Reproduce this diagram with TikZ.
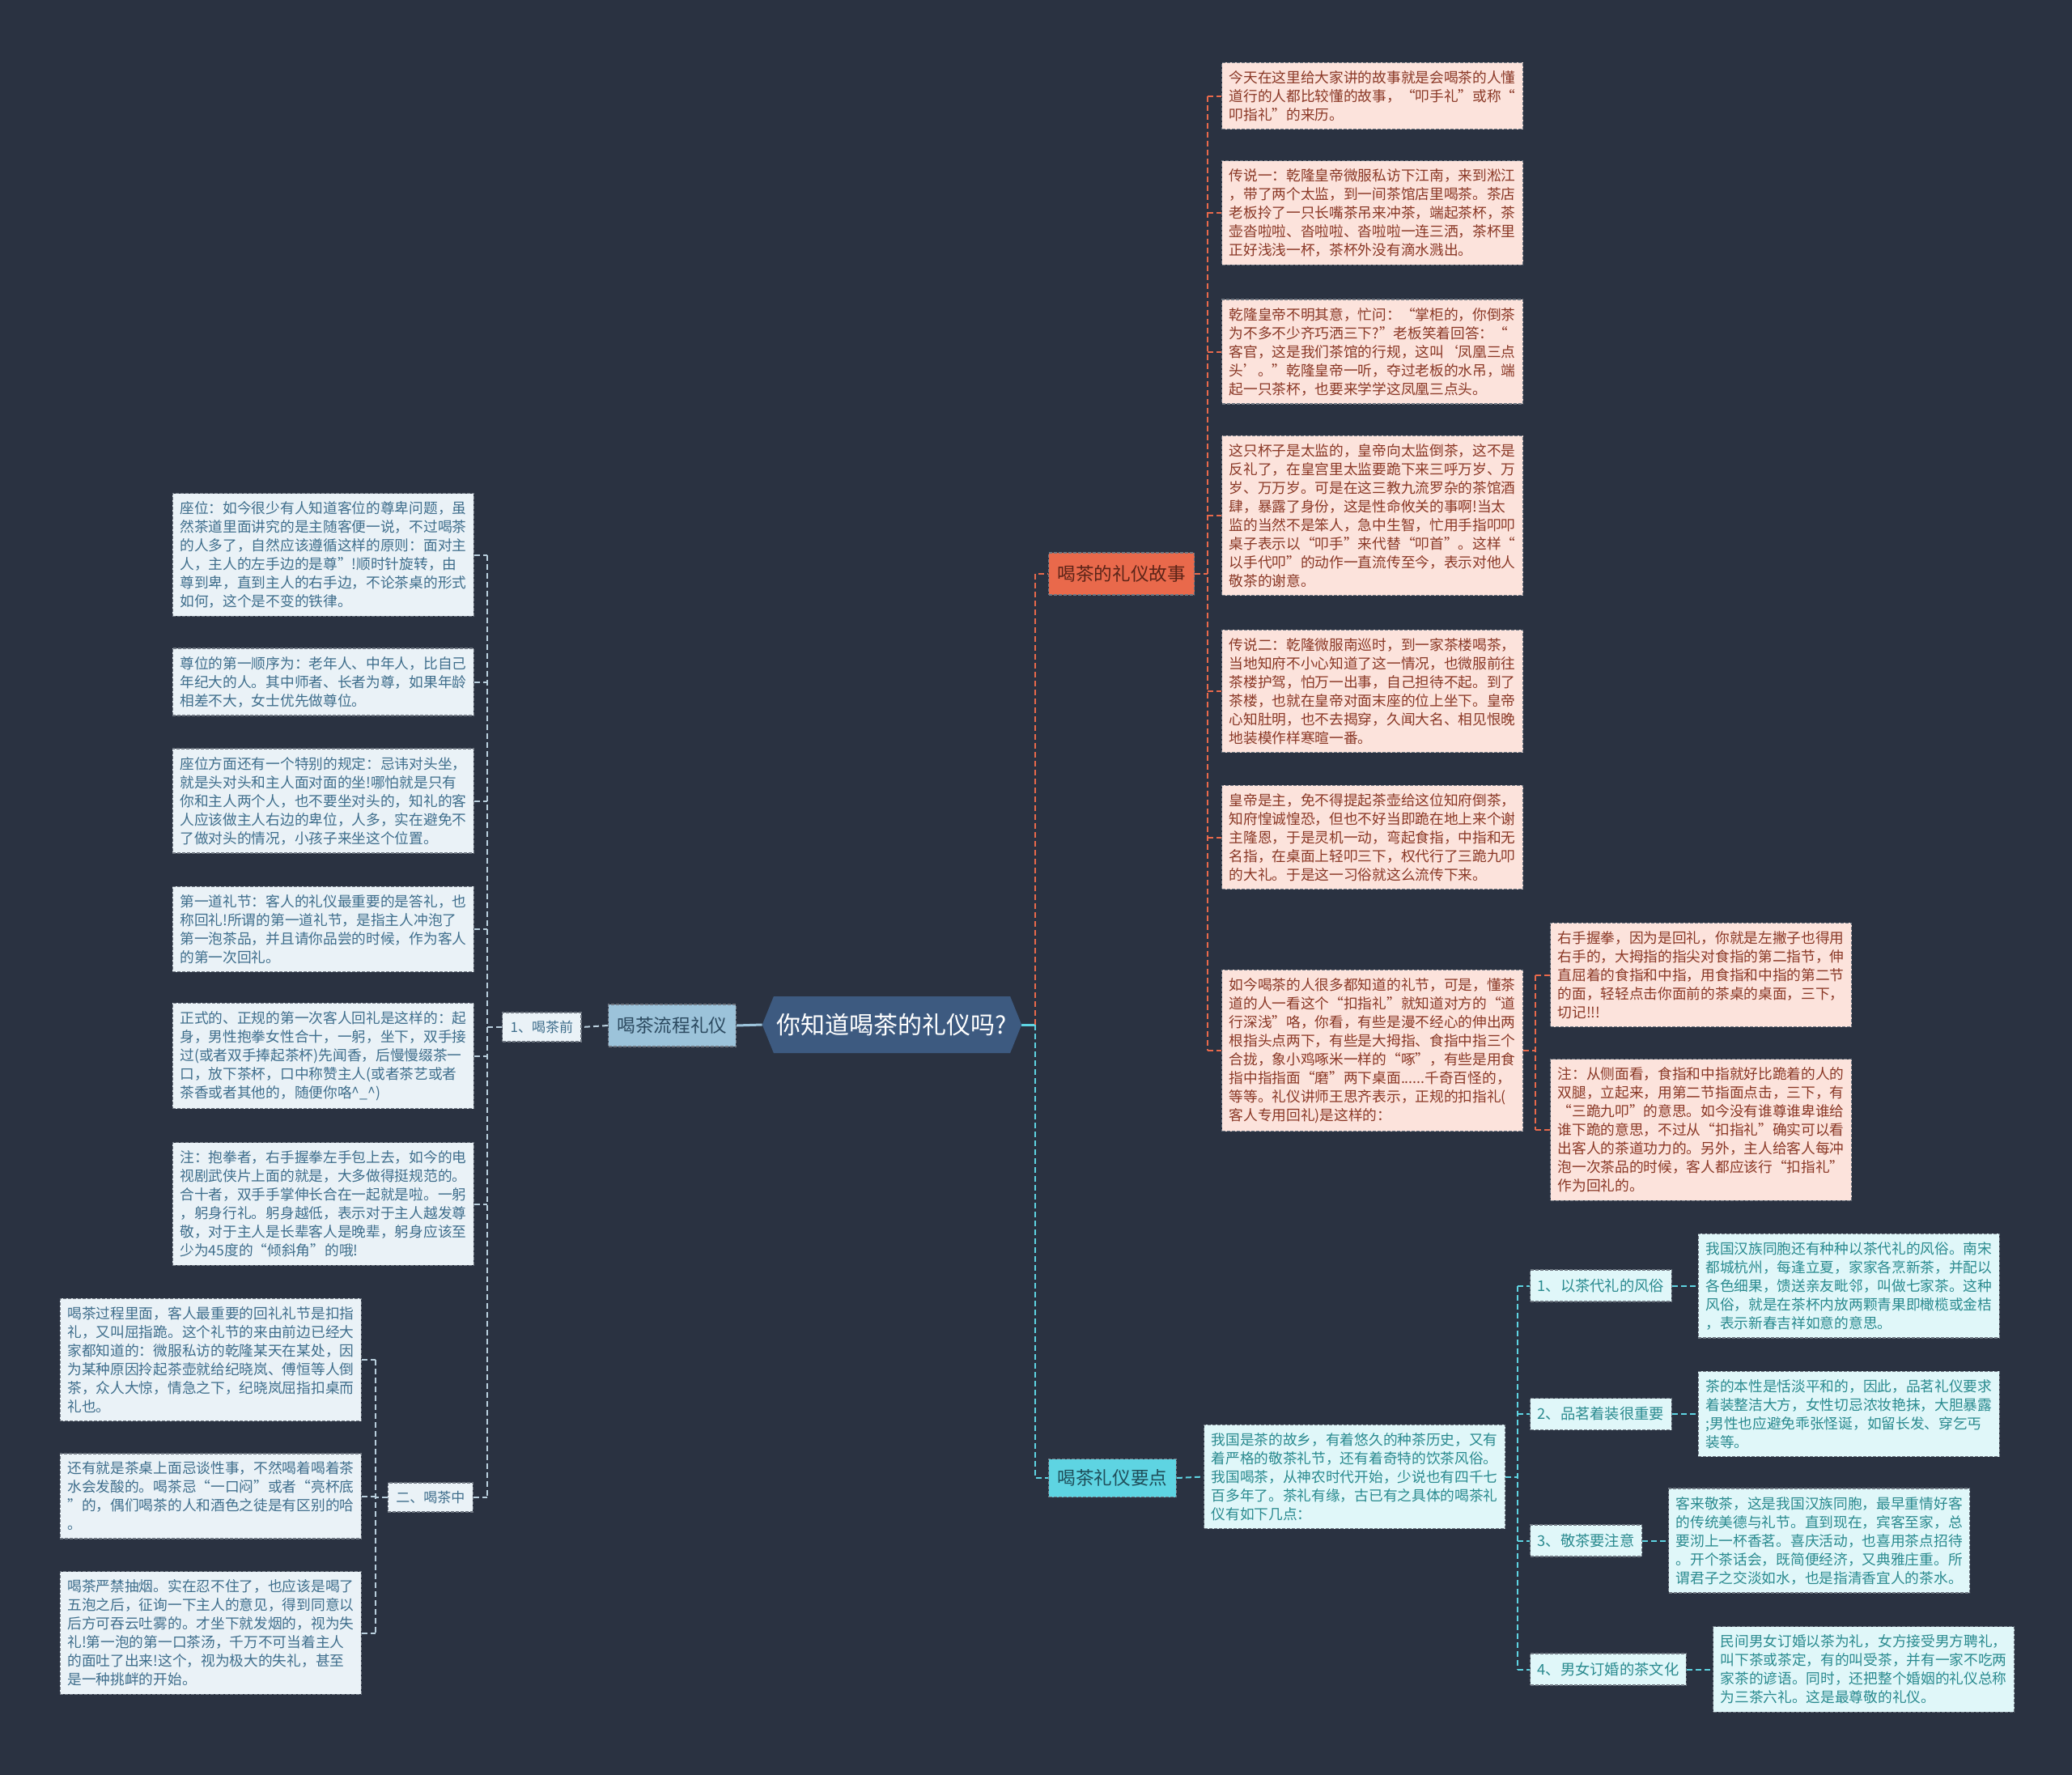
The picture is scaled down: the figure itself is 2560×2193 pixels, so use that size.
\documentclass[tikz,border=0pt]{standalone}
\usepackage{fontspec}
\usepackage{xcolor}
\usepackage{tikz}
\usetikzlibrary{positioning,shapes.symbols,backgrounds}
\newfontfamily\cjk{Noto Sans CJK SC}
\definecolor{bgcol}{HTML}{2A3241}
\definecolor{rootfill}{HTML}{3D5A80}
\definecolor{boxline}{HTML}{6F7782}
\definecolor{flowfill}{HTML}{9CC3DA}
\definecolor{flowtext}{HTML}{2C4A60}
\definecolor{leftfill}{HTML}{EAF2F7}
\definecolor{lefttext}{HTML}{3F6E8C}
\definecolor{leftline}{HTML}{B9CFDD}
\definecolor{storyfill}{HTML}{E9694B}
\definecolor{storytext}{HTML}{5B2418}
\definecolor{storybg}{HTML}{FCE3DC}
\definecolor{storyink}{HTML}{8A3826}
\definecolor{keyfill}{HTML}{5ED4E2}
\definecolor{keytext}{HTML}{1F4E5A}
\definecolor{keybg}{HTML}{E0F7F9}
\definecolor{keyink}{HTML}{2A8A8F}

\begin{document}
\begin{tikzpicture}[x=1pt, y=-1pt,
  box/.style={draw=boxline, dash pattern=on 4pt off 2pt, line width=1.2pt, inner xsep=9pt, inner ysep=10pt,
    text width=354pt, align=left, font=\cjk\fontsize{17.7}{23}\selectfont},
  leftbox/.style={box, fill=leftfill, text=lefttext},
  storybox/.style={box, fill=storybg, text=storyink},
  keybox/.style={box, fill=keybg, text=keyink},
  lbl/.style={draw=boxline, dash pattern=on 4pt off 2pt, line width=1.2pt, inner xsep=10pt, inner ysep=4pt},
  sublbl/.style={lbl, fill=leftfill, text=lefttext, minimum height=36pt, font=\cjk\fontsize{17}{20}\selectfont},
  ptlbl/.style={lbl, fill=keybg, text=keyink, minimum height=39pt, inner xsep=9pt, font=\cjk\fontsize{18.3}{22}\selectfont},
  mainlbl/.style={lbl, inner xsep=11pt, minimum height=52pt, font=\cjk\fontsize{22.6}{26}\selectfont},
  lnleft/.style={draw=leftline, line width=2pt, dash pattern=on 7pt off 4pt},
  lnstory/.style={draw=storyfill, line width=2pt, dash pattern=on 7pt off 4pt},
  lnkey/.style={draw=keyfill, line width=2pt, dash pattern=on 7pt off 4pt}]
\useasboundingbox (0,0) rectangle (2560,2193);

\node[signal, signal to=east and west, signal pointer angle=136, fill=rootfill, text=white,
  minimum width=316pt, minimum height=70pt, inner xsep=4pt, font=\cjk\fontsize{30}{34}\selectfont]
  (root) at (1102,1266) {你知道喝茶的礼仪吗?};

% left side
\node[mainlbl, fill=flowfill, text=flowtext, anchor=west] (flow) at (751,1267) {喝茶流程礼仪};
\node[sublbl, anchor=west] (n1) at (620,1269) {1、喝茶前};
\node[sublbl, anchor=east] (n2) at (585,1850) {二、喝茶中};

\node[leftbox, anchor=east] (l1) at (586,685.5) {座位：如今很少有人知道客位的尊卑问题，虽\\然茶道里面讲究的是主随客便一说，不过喝茶\\的人多了，自然应该遵循这样的原则：面对主\\人，主人的左手边的是尊”!顺时针旋转，由\\尊到卑，直到主人的右手边，不论茶桌的形式\\如何，这个是不变的铁律。};
\node[leftbox, anchor=east] (l2) at (586,842.5) {尊位的第一顺序为：老年人、中年人，比自己\\年纪大的人。其中师者、长者为尊，如果年龄\\相差不大，女士优先做尊位。};
\node[leftbox, anchor=east] (l3) at (586,989.5) {座位方面还有一个特别的规定：忌讳对头坐，\\就是头对头和主人面对面的坐!哪怕就是只有\\你和主人两个人，也不要坐对头的，知礼的客\\人应该做主人右边的卑位，人多，实在避免不\\了做对头的情况，小孩子来坐这个位置。};
\node[leftbox, anchor=east] (l4) at (586,1148) {第一道礼节：客人的礼仪最重要的是答礼，也\\称回礼!所谓的第一道礼节，是指主人冲泡了\\第一泡茶品，并且请你品尝的时候，作为客人\\的第一次回礼。};
\node[leftbox, anchor=east] (l5) at (586,1304.5) {正式的、正规的第一次客人回礼是这样的：起\\身，男性抱拳女性合十，一躬，坐下，双手接\\过(或者双手捧起茶杯)先闻香，后慢慢缀茶一\\口，放下茶杯，口中称赞主人(或者茶艺或者\\茶香或者其他的，随便你咯\textasciicircum\_\textasciicircum)};
\node[leftbox, anchor=east] (l6) at (586,1487.5) {注：抱拳者，右手握拳左手包上去，如今的电\\视剧武侠片上面的就是，大多做得挺规范的。\\合十者，双手手掌伸长合在一起就是啦。一躬\\，躬身行礼。躬身越低，表示对于主人越发尊\\敬，对于主人是长辈客人是晚辈，躬身应该至\\少为45度的“倾斜角”的哦!};
\node[leftbox, anchor=east] (l7) at (447,1680) {喝茶过程里面，客人最重要的回礼礼节是扣指\\礼，又叫屈指跪。这个礼节的来由前边已经大\\家都知道的：微服私访的乾隆某天在某处，因\\为某种原因拎起茶壶就给纪晓岚、傅恒等人倒\\茶，众人大惊，情急之下，纪晓岚屈指扣桌而\\礼也。};
\node[leftbox, anchor=east] (l8) at (447,1848.5) {还有就是茶桌上面忌谈性事，不然喝着喝着茶\\水会发酸的。喝茶忌“一口闷”或者“亮杯底\\”的，偶们喝茶的人和酒色之徒是有区别的哈\\。};
\node[leftbox, anchor=east] (l9) at (447,2017.5) {喝茶严禁抽烟。实在忍不住了，也应该是喝了\\五泡之后，征询一下主人的意见，得到同意以\\后方可吞云吐雾的。才坐下就发烟的，视为失\\礼!第一泡的第一口茶汤，千万不可当着主人\\的面吐了出来!这个，视为极大的失礼，甚至\\是一种挑衅的开始。};

% right side, story
\node[mainlbl, fill=storyfill, text=storytext, anchor=west] (story) at (1295,709) {喝茶的礼仪故事};
\node[storybox, anchor=west] (r1) at (1509,118.5) {今天在这里给大家讲的故事就是会喝茶的人懂\\道行的人都比较懂的故事，“叩手礼”或称“\\叩指礼”的来历。};
\node[storybox, anchor=west] (r2) at (1509,263) {传说一：乾隆皇帝微服私访下江南，来到淞江\\，带了两个太监，到一间茶馆店里喝茶。茶店\\老板拎了一只长嘴茶吊来冲茶，端起茶杯，茶\\壶沓啦啦、沓啦啦、沓啦啦一连三洒，茶杯里\\正好浅浅一杯，茶杯外没有滴水溅出。};
\node[storybox, anchor=west] (r3) at (1509,434.5) {乾隆皇帝不明其意，忙问：“掌柜的，你倒茶\\为不多不少齐巧洒三下?”老板笑着回答：“\\客官，这是我们茶馆的行规，这叫‘凤凰三点\\头’。”乾隆皇帝一听，夺过老板的水吊，端\\起一只茶杯，也要来学学这凤凰三点头。};
\node[storybox, anchor=west] (r4) at (1509,637) {这只杯子是太监的，皇帝向太监倒茶，这不是\\反礼了，在皇宫里太监要跪下来三呼万岁、万\\岁、万万岁。可是在这三教九流罗杂的茶馆酒\\肆，暴露了身份，这是性命攸关的事啊!当太\\监的当然不是笨人，急中生智，忙用手指叩叩\\桌子表示以“叩手”来代替“叩首”。这样“\\以手代叩”的动作一直流传至今，表示对他人\\敬茶的谢意。};
\node[storybox, anchor=west] (r5) at (1509,854) {传说二：乾隆微服南巡时，到一家茶楼喝茶，\\当地知府不小心知道了这一情况，也微服前往\\茶楼护驾，怕万一出事，自己担待不起。到了\\茶楼，也就在皇帝对面末座的位上坐下。皇帝\\心知肚明，也不去揭穿，久闻大名、相见恨晚\\地装模作样寒暄一番。};
\node[storybox, anchor=west] (r6) at (1509,1034.5) {皇帝是主，免不得提起茶壶给这位知府倒茶，\\知府惶诚惶恐，但也不好当即跪在地上来个谢\\主隆恩，于是灵机一动，弯起食指，中指和无\\名指，在桌面上轻叩三下，权代行了三跪九叩\\的大礼。于是这一习俗就这么流传下来。};
\node[storybox, anchor=west] (r7) at (1509,1298) {如今喝茶的人很多都知道的礼节，可是，懂茶\\道的人一看这个“扣指礼”就知道对方的“道\\行深浅”咯，你看，有些是漫不经心的伸出两\\根指头点两下，有些是大拇指、食指中指三个\\合拢，象小鸡啄米一样的“啄”，有些是用食\\指中指指面“磨”两下桌面......千奇百怪的，\\等等。礼仪讲师王思齐表示，正规的扣指礼(\\客人专用回礼)是这样的：};
\node[storybox, anchor=west] (s1) at (1915,1204.5) {右手握拳，因为是回礼，你就是左撇子也得用\\右手的，大拇指的指尖对食指的第二指节，伸\\直屈着的食指和中指，用食指和中指的第二节\\的面，轻轻点击你面前的茶桌的桌面，三下，\\切记!!!};
\node[storybox, anchor=west] (s2) at (1915,1396) {注：从侧面看，食指和中指就好比跪着的人的\\双腿，立起来，用第二节指面点击，三下，有\\“三跪九叩”的意思。如今没有谁尊谁卑谁给\\谁下跪的意思，不过从“扣指礼”确实可以看\\出客人的茶道功力的。另外，主人给客人每冲\\泡一次茶品的时候，客人都应该行“扣指礼”\\作为回礼的。};

% right side, key points
\node[mainlbl, fill=keyfill, text=keytext, minimum height=47pt, anchor=west] (keypt) at (1295,1826) {喝茶礼仪要点};
\node[keybox, anchor=west] (p0) at (1487,1824.5) {我国是茶的故乡，有着悠久的种茶历史，又有\\着严格的敬茶礼节，还有着奇特的饮茶风俗。\\我国喝茶，从神农时代开始，少说也有四千七\\百多年了。茶礼有缘，古已有之具体的喝茶礼\\仪有如下几点：};
\node[ptlbl, anchor=west] (k1) at (1890,1588.5) {1、以茶代礼的风俗};
\node[ptlbl, anchor=west] (k2) at (1890,1747) {2、品茗着装很重要};
\node[ptlbl, anchor=west] (k3) at (1890,1903.5) {3、敬茶要注意};
\node[ptlbl, anchor=west] (k4) at (1890,2062.5) {4、男女订婚的茶文化};
\node[keybox, right=32pt of k1] (d1) {我国汉族同胞还有种种以茶代礼的风俗。南宋\\都城杭州，每逢立夏，家家各烹新茶，并配以\\各色细果，馈送亲友毗邻，叫做七家茶。这种\\风俗，就是在茶杯内放两颗青果即橄榄或金桔\\，表示新春吉祥如意的意思。};
\node[keybox, right=32pt of k2] (d2) {茶的本性是恬淡平和的，因此，品茗礼仪要求\\着装整洁大方，女性切忌浓妆艳抹，大胆暴露\\;男性也应避免乖张怪诞，如留长发、穿乞丐\\装等。};
\node[keybox, right=32pt of k3] (d3) {客来敬茶，这是我国汉族同胞，最早重情好客\\的传统美德与礼节。直到现在，宾客至家，总\\要沏上一杯香茗。喜庆活动，也喜用茶点招待\\。开个茶话会，既简便经济，又典雅庄重。所\\谓君子之交淡如水，也是指清香宜人的茶水。};
\node[keybox, right=32pt of k4] (d4) {民间男女订婚以茶为礼，女方接受男方聘礼，\\叫下茶或茶定，有的叫受茶，并有一家不吃两\\家茶的谚语。同时，还把整个婚姻的礼仪总称\\为三茶六礼。这是最尊敬的礼仪。};

\coordinate (t1) at (602,1269);
\coordinate (t2) at (464,1850);
\coordinate (hub) at (1279,1266);
\coordinate (t3) at (1492,709);
\coordinate (t4) at (1897,1298);
\coordinate (t5) at (1875,1824.5);

\begin{scope}[on background layer]
\fill[bgcol] (0,0) rectangle (2560,2193);
\draw[draw=flowfill, line width=3pt] (root.west) -- (flow.east);
\draw[lnleft] (flow.west) -- (n1.east);
\draw[lnleft] (n1.west) -- (t1);
\draw[lnleft] (t1 |- l1.east) -- (t1 |- n2.east);
\foreach \n in {l1,l2,l3,l4,l5,l6,n2}
  \draw[lnleft] (\n.east) -- (t1 |- \n.east);
\draw[lnleft] (n2.west) -- (t2);
\draw[lnleft] (t2 |- l7.east) -- (t2 |- l9.east);
\foreach \n in {l7,l8,l9}
  \draw[lnleft] (\n.east) -- (t2 |- \n.east);
\draw[draw=keyfill, line width=3pt] (root.east) -- (hub);
\draw[lnstory] (hub) |- (story.west);
\draw[lnkey] (hub) |- (keypt.west);
\draw[lnstory] (story.east) -- (t3);
\draw[lnstory] (t3 |- r1.west) -- (t3 |- r7.west);
\foreach \n in {r1,r2,r3,r4,r5,r6,r7}
  \draw[lnstory] (t3 |- \n.west) -- (\n.west);
\draw[lnstory] (r7.east) -- (t4);
\draw[lnstory] (t4 |- s1.west) -- (t4 |- s2.west);
\foreach \n in {s1,s2}
  \draw[lnstory] (t4 |- \n.west) -- (\n.west);
\draw[lnkey] (keypt.east) -- (p0.west);
\draw[lnkey] (p0.east) -- (t5);
\draw[lnkey] (t5 |- k1.west) -- (t5 |- k4.west);
\foreach \n/\m in {k1/d1,k2/d2,k3/d3,k4/d4}{
  \draw[lnkey] (t5 |- \n.west) -- (\n.west);
  \draw[lnkey] (\n.east) -- (\m.west);}
\end{scope}
\end{tikzpicture}
\end{document}
